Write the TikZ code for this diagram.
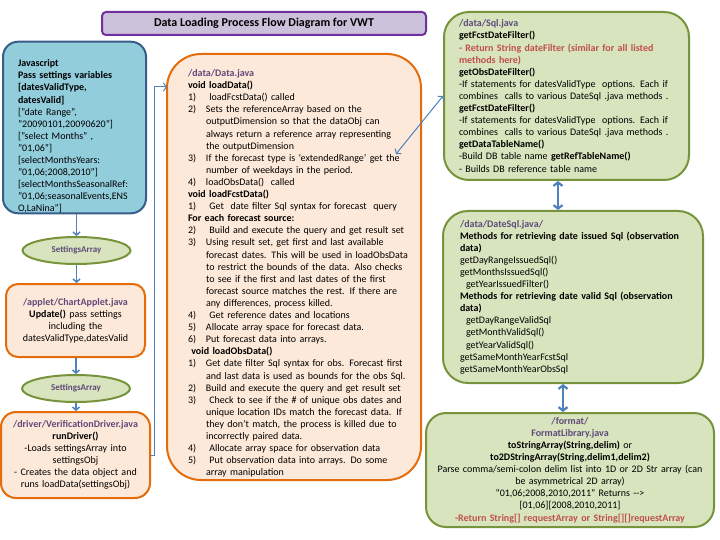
\documentclass[tikz,border=0pt]{standalone}
\usepackage{fontspec}
\setmainfont{Carlito}
\usetikzlibrary{arrows.meta, positioning, shapes.geometric, calc}
\usepackage{xcolor}
\definecolor{jsfill}{RGB}{146,205,220}
\definecolor{jsline}{RGB}{56,93,138}
\definecolor{orfill}{RGB}{253,233,217}
\definecolor{orline}{RGB}{228,108,10}
\definecolor{grfill}{RGB}{215,228,189}
\definecolor{grline}{RGB}{119,147,60}
\definecolor{titlefill}{RGB}{204,193,218}
\definecolor{titleline}{RGB}{112,48,160}
\definecolor{pathcolor}{RGB}{96,74,123}
\definecolor{redtext}{RGB}{192,80,77}
\definecolor{linkcolor}{RGB}{79,129,189}
\newcommand{\fpath}[1]{\textcolor{pathcolor}{\textbf{#1}}}
\newcommand{\redline}[1]{\textcolor{redtext}{\textbf{#1}}}
\newcommand{\numitem}[2]{\makebox[18pt][l]{#1}\mbox{#2}}
\newcommand{\contline}[1]{\hspace*{18pt}\mbox{#1}}
\tikzset{
  basebox/.style = {rectangle, line width=2pt, inner sep=0pt,
                    font=\fontsize{10}{12.1}\selectfont},
  jsbox/.style   = {basebox, draw=jsline, fill=jsfill, rounded corners=15pt, align=left},
  obox/.style    = {basebox, draw=orline, fill=orfill},
  gbox/.style    = {basebox, draw=grline, fill=grfill},
  setnode/.style = {ellipse, draw=grline, fill=grfill, line width=2pt, inner sep=0pt,
                    minimum width=108pt, minimum height=27pt,
                    font=\fontsize{9}{11}\selectfont\bfseries, text=pathcolor},
  arrow/.style   = {-{Straight Barb[length=3pt,width=7pt]}, line width=1.5pt, color=linkcolor},
  dlink/.style   = {{Straight Barb[length=3.5pt,width=9pt]}-{Straight Barb[length=3.5pt,width=9pt]},
                    line width=2.2pt, color=linkcolor},
  link/.style    = {line width=1pt, color=linkcolor},
}

\begin{document}
\begin{tikzpicture}[x=1pt, y=-1pt]
  \useasboundingbox (0,0) rectangle (720,540);
  % title
  \node[rectangle, draw=titleline, fill=titlefill, line width=2pt, rounded corners=4pt,
        minimum width=324pt, minimum height=23pt, font=\fontsize{12}{14}\selectfont\bfseries]
        (title) at (264,23.5) {Data Loading Process Flow Diagram for VWT};
  % left column
  \node[jsbox, minimum width=143pt, minimum height=169pt, text width=113pt] (js) at (74.5,127.5) {%
    \rule{0pt}{25pt}\textbf{Javascript}\\
    \textbf{Pass settings variables}\\
    \textbf{[datesValidType,}\\
    \textbf{datesValid]}\\
    {}["date Range”,\\
    "20090101,20090620”]\\
    {}["select Months” ,\\
    "01,06”]\\
    {}[selectMonthsYears:\\
    "01,06;2008,2010”]\\
    {}[selectMonthsSeasonalRef:\\
    "01,06;seasonalEvents,ENS\\
    O,LaNina”]};
  \node[setnode] (sa1) at (76.5,250.5) {SettingsArray};
  \node[obox, rounded corners=12pt, minimum width=139pt, minimum height=73pt,
        text width=130pt, align=center] (chart) at (75.5,320.5) {%
    \fpath{/applet/ChartApplet.java}\\
    \textbf{Update()} pass settings\\
    including the\\
    datesValidType,datesValid};
  \node[setnode] (sa2) at (76,388.5) {SettingsArray};
  \node[obox, rounded corners=15pt, minimum width=149pt, minimum height=86pt,
        text width=140pt, align=center] (drv) at (75.5,455) {%
    \fpath{/driver/VerificationDriver.java}\\
    \textbf{runDriver()}\\
    -Loads settingsArray into\\
    settingsObj\\
    - Creates the data object and\\
    runs loadData(settingsObj)};
  % middle column
  \node[obox, rounded corners=34pt, minimum width=254pt, minimum height=426pt,
        text width=212pt, align=left] (data) at (294,267) {%
    \rule{0pt}{20pt}\fpath{/data/Data.java}\\
    \textbf{void loadData()}\\
    \numitem{1)}{\ loadFcstData() called}\\
    \numitem{2)}{Sets the referenceArray based on the}\\
    \contline{outputDimension so that the dataObj can}\\
    \contline{always return a reference array representing}\\
    \contline{the outputDimension}\\
    \numitem{3)}{If the forecast type is ‘extendedRange’ get the}\\
    \contline{number of weekdays in the period.}\\
    \numitem{4)}{loadObsData()\ \ called}\\
    \textbf{void loadFcstData()}\\
    \numitem{1)}{\ Get\ \ date filter Sql syntax for forecast\ \ query}\\
    \textbf{For each forecast source:}\\
    \numitem{2)}{\ Build and execute the query and get result set}\\
    \numitem{3)}{Using result set, get first and last available}\\
    \contline{forecast dates. This will be used in loadObsData}\\
    \contline{to restrict the bounds of the data. Also checks}\\
    \contline{to see if the first and last dates of the first}\\
    \contline{forecast source matches the rest. If there are}\\
    \contline{any differences, process killed.}\\
    \numitem{4)}{\ Get reference dates and locations}\\
    \numitem{5)}{Allocate array space for forecast data.}\\
    \numitem{6)}{Put forecast data into arrays.}\\
    \textbf{\ void loadObsData()}\\
    \numitem{1)}{Get date filter Sql syntax for obs. Forecast first}\\
    \contline{and last data is used as bounds for the obs Sql.}\\
    \numitem{2)}{Build and execute the query and get result set}\\
    \numitem{3)}{\ Check to see if the \# of unique obs dates and}\\
    \contline{unique location IDs match the forecast data. If}\\
    \contline{they don’t match, the process is killed due to}\\
    \contline{incorrectly paired data.}\\
    \numitem{4)}{\ Allocate array space for observation data}\\
    \numitem{5)}{\ Put observation data into arrays. Do some}\\
    \contline{array manipulation}};
  % right column
  \node[gbox, rounded corners=25pt, minimum width=245pt, minimum height=168pt,
        text width=215pt, align=left] (sql) at (566.5,96) {%
    \fpath{/data/Sql.java}\\
    \textbf{getFcstDateFilter()}\\
    \redline{- Return String dateFilter (similar for all listed}\\
    \redline{methods here)}\\
    \textbf{getObsDateFilter()}\\
    -If statements for datesValidType\ \ options. Each if\\
    combines\ \ calls to various DateSql .java methods .\\
    \textbf{getFcstDateFilter()}\\
    -If statements for datesValidType\ \ options. Each if\\
    combines\ \ calls to various DateSql .java methods .\\
    \textbf{getDataTableName()}\\
    -Build DB table name \textbf{getRefTableName()}\\
    - Builds DB reference table name};
  \node[gbox, rounded corners=25pt, minimum width=260pt, minimum height=172pt,
        text width=226pt, align=left] (dsql) at (573,297) {%
    \fpath{/data/DateSql.java/}\\
    \textbf{Methods for retrieving date issued Sql (observation}\\
    \textbf{data)}\\
    getDayRangeIssuedSql()\\
    getMonthsIssuedSql()\\
    \hspace*{6pt}getYearIssuedFilter()\\
    \textbf{Methods for retrieving date valid Sql (observation}\\
    \textbf{data)}\\
    \hspace*{6pt}getDayRangeValidSql\\
    \hspace*{6pt}getMonthValidSql()\\
    \hspace*{6pt}getYearValidSql()\\
    getSameMonthYearFcstSql\\
    getSameMonthYearObsSql};
  \node[gbox, rounded corners=20pt, minimum width=288pt, minimum height=114pt,
        text width=276pt, align=center] (fmt) at (570,470) {%
    \fpath{/format/}\\
    \fpath{FormatLibrary.java}\\
    \textbf{toStringArray(String,delim)} or\\
    \textbf{to2DStringArray(String,delim1,delim2)}\\
    Parse comma/semi-colon delim list into 1D or 2D Str array (can\\
    be asymmetrical 2D array)\\
    “01,06;2008,2010,2011” Returns -{}->\\
    {}[01,06][2008,2010,2011]\\
    \redline{-Return String[] requestArray or String[][]requestArray}};
  % connectors
  \coordinate (datain) at (167,87);
  \coordinate (sqlend) at (396,154);
  \draw[arrow] (js.south -| sa1.north) -- (sa1.north);
  \draw[arrow] (sa1.south) -- (sa1.south |- chart.north);
  \draw[arrow] (chart.south -| sa2.north) -- (sa2.north);
  \draw[arrow] (sa2.south) -- (sa2.south |- drv.north);
  \draw[link, -{Straight Barb[length=3pt,width=8pt]}] (drv.east) -- ++(3,0) |- (datain);
  \draw[link, {Straight Barb[length=3pt,width=8pt]}-{Straight Barb[length=3pt,width=8pt]}]
       (sqlend) -- (sql.west);
  \draw[dlink] (sql.south -| 558,0) -- (dsql.north -| 558,0);
  \draw[dlink] (dsql.south -| 563,0) -- (fmt.north -| 563,0);
\end{tikzpicture}
\end{document}
